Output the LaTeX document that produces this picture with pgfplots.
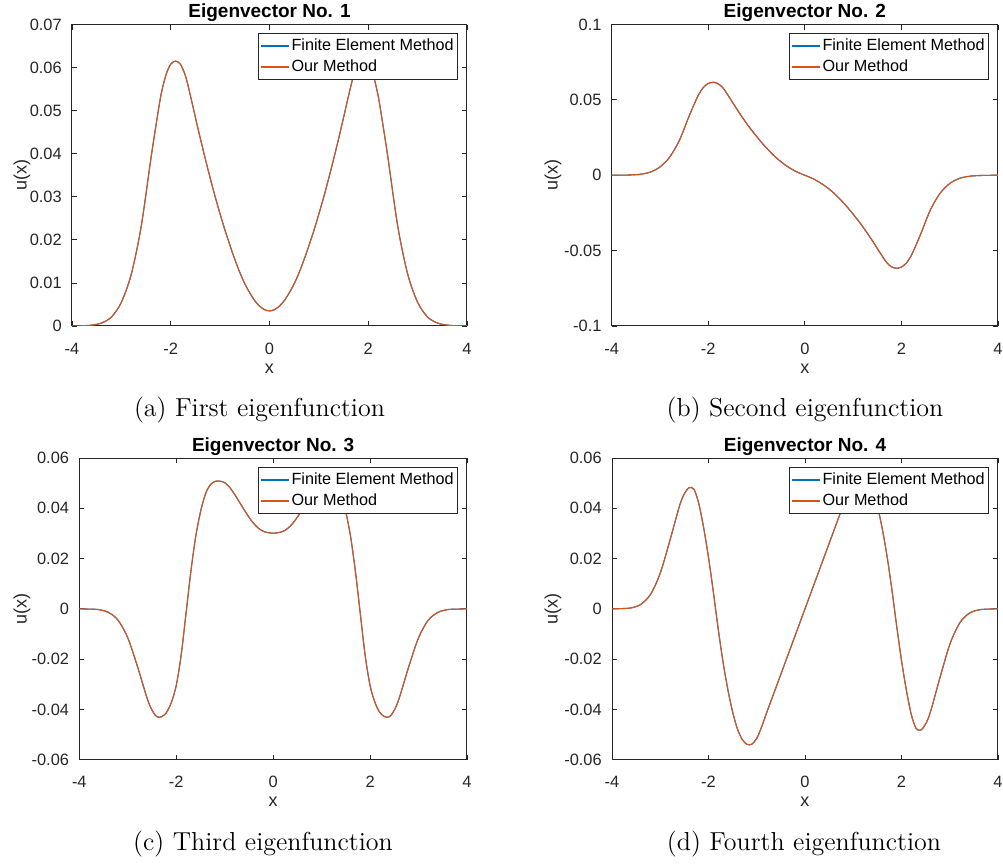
\documentclass[border=0pt]{standalone}
\usepackage{fontspec}
\newfontfamily\sans{Liberation Sans}
\usepackage{pgfplots}
\usepackage{pgfplotstable}
\pgfplotsset{compat=1.18}
\definecolor{mblue}{rgb}{0,0.447,0.741}
\definecolor{morange}{rgb}{0.850,0.325,0.098}
\definecolor{axgray}{rgb}{0.15,0.15,0.15}

\pgfplotstableread{
x y
-4.0 0.0000
-3.8 0.00005
-3.6 0.0002
-3.4 0.0007
-3.2 0.0021
-3.0 0.0055
-2.8 0.0120
-2.6 0.0230
-2.4 0.0390
-2.3 0.0465
-2.2 0.0535
-2.1 0.0582
-2.0 0.0608
-1.9 0.0615
-1.8 0.0607
-1.7 0.0580
-1.6 0.0534
-1.5 0.0484
-1.4 0.0435
-1.3 0.0388
-1.2 0.0343
-1.1 0.0300
-1.0 0.0260
-0.9 0.0222
-0.8 0.0187
-0.7 0.0154
-0.6 0.0124
-0.5 0.0098
-0.4 0.0077
-0.3 0.0059
-0.2 0.0046
-0.1 0.0038
0.0 0.0035
0.1 0.0038
0.2 0.0046
0.3 0.0059
0.4 0.0077
0.5 0.0098
0.6 0.0124
0.7 0.0154
0.8 0.0187
0.9 0.0222
1.0 0.0260
1.1 0.0300
1.2 0.0343
1.3 0.0388
1.4 0.0435
1.5 0.0484
1.6 0.0534
1.7 0.0580
1.8 0.0607
1.9 0.0615
2.0 0.0608
2.1 0.0582
2.2 0.0535
2.3 0.0465
2.4 0.0390
2.6 0.0230
2.8 0.0120
3.0 0.0055
3.2 0.0021
3.4 0.0007
3.6 0.0002
3.8 0.00005
4.0 0.0000
}\eigA

\pgfplotstableread{
x y
-4.0 0.0000
-3.8 0.00005
-3.6 0.0002
-3.4 0.0007
-3.2 0.0021
-3.0 0.0055
-2.8 0.0120
-2.6 0.0230
-2.4 0.0390
-2.3 0.0465
-2.2 0.0535
-2.1 0.0583
-2.0 0.0609
-1.9 0.0617
-1.8 0.0608
-1.7 0.0581
-1.6 0.0535
-1.5 0.0485
-1.4 0.0435
-1.3 0.0387
-1.2 0.0341
-1.1 0.0298
-1.0 0.0258
-0.9 0.0219
-0.8 0.0183
-0.7 0.0149
-0.6 0.0118
-0.5 0.0091
-0.4 0.0067
-0.3 0.0046
-0.2 0.0028
-0.1 0.0013
0.0 0.0000
0.1 -0.0013
0.2 -0.0028
0.3 -0.0046
0.4 -0.0067
0.5 -0.0091
0.6 -0.0118
0.7 -0.0149
0.8 -0.0183
0.9 -0.0219
1.0 -0.0258
1.1 -0.0298
1.2 -0.0341
1.3 -0.0387
1.4 -0.0435
1.5 -0.0485
1.6 -0.0535
1.7 -0.0581
1.8 -0.0608
1.9 -0.0617
2.0 -0.0609
2.1 -0.0583
2.2 -0.0535
2.3 -0.0465
2.4 -0.0390
2.6 -0.0230
2.8 -0.0120
3.0 -0.0055
3.2 -0.0021
3.4 -0.0007
3.6 -0.0002
3.8 -0.00005
4.0 0.0000
}\eigB

\pgfplotstableread{
x y
-4.0 0.0000
-3.8 -0.0001
-3.6 -0.0003
-3.4 -0.0014
-3.2 -0.0045
-3.0 -0.0115
-2.8 -0.0229
-2.6 -0.0356
-2.5 -0.0403
-2.4 -0.0429
-2.3 -0.0429
-2.2 -0.0412
-2.1 -0.0372
-2.0 -0.0305
-1.9 -0.0187
-1.8 -0.0022
-1.7 0.0145
-1.6 0.0285
-1.5 0.0385
-1.4 0.0455
-1.3 0.0493
-1.2 0.0507
-1.1 0.0508
-1.0 0.0502
-0.9 0.0484
-0.8 0.0457
-0.7 0.0426
-0.6 0.0395
-0.5 0.0365
-0.4 0.0339
-0.3 0.0320
-0.2 0.0308
-0.1 0.0303
0.0 0.0301
0.1 0.0303
0.2 0.0308
0.3 0.0320
0.4 0.0339
0.5 0.0365
0.6 0.0395
0.7 0.0426
0.8 0.0457
0.9 0.0484
1.0 0.0502
1.1 0.0508
1.2 0.0507
1.3 0.0493
1.4 0.0455
1.5 0.0385
1.6 0.0285
1.7 0.0145
1.8 -0.0022
1.9 -0.0187
2.0 -0.0305
2.1 -0.0372
2.2 -0.0412
2.3 -0.0429
2.4 -0.0429
2.5 -0.0403
2.6 -0.0356
2.8 -0.0229
3.0 -0.0115
3.2 -0.0045
3.4 -0.0014
3.6 -0.0003
3.8 -0.0001
4.0 0.0000
}\eigC

\pgfplotstableread{
x y
-4.0 0.0000
-3.8 0.0001
-3.6 0.0004
-3.4 0.0018
-3.2 0.0058
-3.0 0.0142
-2.8 0.0272
-2.6 0.0410
-2.5 0.0458
-2.4 0.0482
-2.3 0.0475
-2.2 0.0418
-2.1 0.0322
-2.0 0.0205
-1.9 0.0068
-1.8 -0.0078
-1.7 -0.0210
-1.6 -0.0320
-1.5 -0.0410
-1.4 -0.0478
-1.3 -0.0520
-1.2 -0.0539
-1.1 -0.0538
-1.0 -0.0515
-0.9 -0.0470
-0.8 -0.0416
-0.6 -0.0312
-0.4 -0.0208
-0.2 -0.0104
0.0 0.0000
0.2 0.0104
0.4 0.0208
0.6 0.0312
0.8 0.0416
0.9 0.0470
1.0 0.0515
1.1 0.0538
1.2 0.0539
1.3 0.0520
1.4 0.0478
1.5 0.0410
1.6 0.0320
1.7 0.0210
1.8 0.0078
1.9 -0.0068
2.0 -0.0205
2.1 -0.0322
2.2 -0.0418
2.3 -0.0475
2.4 -0.0482
2.5 -0.0458
2.6 -0.0410
2.8 -0.0272
3.0 -0.0142
3.2 -0.0058
3.4 -0.0018
3.6 -0.0004
3.8 -0.0001
4.0 0.0000
}\eigD

\pgfplotsset{
 eig/.style={
  scale only axis,
  anchor=south west,
  xmin=-4, xmax=4,
  xtick={-4,-2,0,2,4},
  xticklabels={-4,-2,0,2,4},
  scaled y ticks=false,
  scaled x ticks=false,
  axis line style={axgray, line width=0.5pt},
  every tick/.style={axgray, line width=0.4pt},
  major tick length=2.5pt,
  tick align=inside,
  ticklabel style={font=\sans\fontsize{8.2}{9.6}\selectfont, text=axgray},
  xticklabel style={anchor=base, yshift=-14pt},
  yticklabel style={anchor=east, xshift=-1.6pt},
  xlabel={x},
  ylabel={u(x)},
  xlabel style={font=\sans\fontsize{9}{10}\selectfont, text=axgray, at={(axis description cs:0.5,0)}, anchor=base, yshift=-23.5pt},
  ylabel style={font=\sans\fontsize{9}{10}\selectfont, text=axgray, anchor=center},
  title style={font=\sans\bfseries\fontsize{9.5}{11}\selectfont, at={(axis description cs:0.5,1)}, anchor=base, yshift=-2.5pt},
  legend style={at={(axis description cs:1,1)}, anchor=north east, xshift=-4.5pt, yshift=-4.3pt,
    draw=axgray, line width=0.4pt, fill=white,
    font=\sans\fontsize{8.1}{9}\selectfont,
    inner xsep=1pt, inner ysep=1pt, row sep=0pt,
    nodes={inner xsep=1pt, inner ysep=1.6pt}},
  legend cell align=left,
  legend image code/.code={\draw[##1, line width=0.8pt] (0pt,0pt) -- (14pt,0pt);},
  every axis plot/.append style={line width=0.55pt, no markers},
 }
}

\begin{document}
\begin{tikzpicture}
% (a)
\begin{axis}[eig, at={(36pt,269pt)}, width=197.5pt, height=150.75pt,
  ymin=0, ymax=0.07,
  ytick={0,0.01,0.02,0.03,0.04,0.05,0.06,0.07},
  yticklabels={0,0.01,0.02,0.03,0.04,0.05,0.06,0.07},
  ylabel style={at={(axis description cs:-0.1266,0.5)}},
  title={Eigenvector No. 1}]
\addplot[mblue, smooth] table[x=x,y=y] {\eigA};
\addplot[morange, smooth] table[x=x,y=y] {\eigA};
\legend{Finite Element Method, Our Method}
\end{axis}
% (b)
\begin{axis}[eig, at={(305.85pt,269pt)}, width=193.15pt, height=150.75pt,
  ymin=-0.1, ymax=0.1,
  ytick={-0.1,-0.05,0,0.05,0.1},
  yticklabels={-0.1,-0.05,0,0.05,0.1},
  ylabel style={at={(axis description cs:-0.152,0.5)}},
  title={Eigenvector No. 2}]
\addplot[mblue, smooth] table[x=x,y=y] {\eigB};
\addplot[morange, smooth] table[x=x,y=y] {\eigB};
\legend{Finite Element Method, Our Method}
\end{axis}
% (c)
\begin{axis}[eig, at={(39.65pt,52.15pt)}, width=193.85pt, height=150.85pt,
  ymin=-0.06, ymax=0.06,
  ytick={-0.06,-0.04,-0.02,0,0.02,0.04,0.06},
  yticklabels={-0.06,-0.04,-0.02,0,0.02,0.04,0.06},
  ylabel style={at={(axis description cs:-0.1478,0.5)}},
  legend style={yshift=-0.25pt},
  title={Eigenvector No. 3}]
\addplot[mblue, smooth] table[x=x,y=y] {\eigC};
\addplot[morange, smooth] table[x=x,y=y] {\eigC};
\legend{Finite Element Method, Our Method}
\end{axis}
% (d)
\begin{axis}[eig, at={(306pt,52.15pt)}, width=193pt, height=150.85pt,
  ymin=-0.06, ymax=0.06,
  ytick={-0.06,-0.04,-0.02,0,0.02,0.04,0.06},
  yticklabels={-0.06,-0.04,-0.02,0,0.02,0.04,0.06},
  ylabel style={at={(axis description cs:-0.1528,0.5)}},
  legend style={yshift=-0.25pt},
  title={Eigenvector No. 4}]
\addplot[mblue, smooth] table[x=x,y=y] {\eigD};
\addplot[morange, smooth] table[x=x,y=y] {\eigD};
\legend{Finite Element Method, Our Method}
\end{axis}
\node[anchor=base, font=\fontsize{13}{15}\selectfont] at (129.75pt,223.5pt) {(a) First eigenfunction};
\node[anchor=base, font=\fontsize{13}{15}\selectfont] at (402.5pt,223.5pt) {(b) Second eigenfunction};
\node[anchor=base, font=\fontsize{13}{15}\selectfont] at (131.5pt,7pt) {(c) Third eigenfunction};
\node[anchor=base, font=\fontsize{13}{15}\selectfont] at (402pt,7pt) {(d) Fourth eigenfunction};
\pgfresetboundingbox
\useasboundingbox (0,0) rectangle (501.5pt,432pt);
\end{tikzpicture}
\end{document}
